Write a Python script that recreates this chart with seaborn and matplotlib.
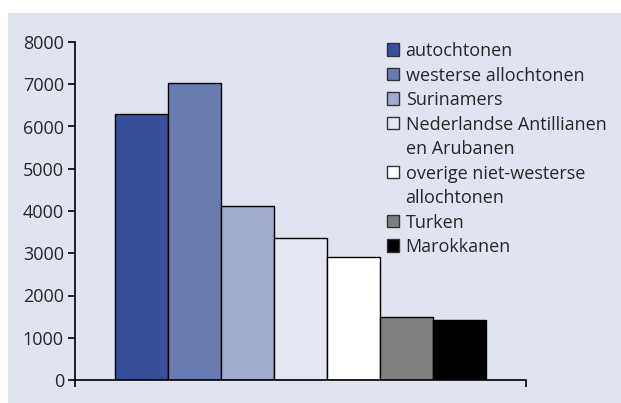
import matplotlib
matplotlib.use('Agg')
import matplotlib.pyplot as plt
import matplotlib.patches as mpatches
import seaborn as sns
import pandas as pd

# gegevens
groepen = ['autochtonen', 'westerse allochtonen', 'Surinamers',
           'Nederlandse Antillianen en Arubanen',
           'overige niet-westerse allochtonen', 'Turken', 'Marokkanen']
# legendatekst per regel (None = vervolgregel zonder vakje)
legenda_regels = ['autochtonen', 'westerse allochtonen', 'Surinamers',
                  'Nederlandse Antillianen', 'en Arubanen',
                  'overige niet-westerse', 'allochtonen', 'Turken', 'Marokkanen']
legenda_groep = [0, 1, 2, 3, None, 4, None, 5, 6]
waarden = [6300, 7030, 4120, 3360, 2920, 1480, 1430]
kleuren = ['#3A4F99', '#6A7BB0', '#A0AACD', '#E4E7F2', '#FFFFFF', '#808080', '#000000']
y_ticks = [0, 1000, 2000, 3000, 4000, 5000, 6000, 7000, 8000]

achtergrond = '#E0E4F0'

df = pd.DataFrame({'cat': ['x'] * len(groepen), 'groep': groepen, 'aantal': waarden})

sns.set_style('ticks')
plt.rcParams['font.family'] = ['Open Sans', 'DejaVu Sans']

fig = plt.figure(figsize=(6.21, 4.03), dpi=100)
fig.patch.set_facecolor('white')

# lichtblauw paneel achter de grafiek
fig.patches.append(mpatches.Rectangle((8 / 621, 0), 1 - 8 / 621, 1 - 13 / 403,
                                      transform=fig.transFigure,
                                      facecolor=achtergrond, edgecolor='none',
                                      zorder=-5))

ax = fig.add_axes([75 / 621, 23 / 403, 451 / 621, 338 / 403])
ax.set_facecolor('none')

sns.barplot(data=df, x='cat', y='aantal', hue='groep', hue_order=groepen,
            palette=kleuren, width=0.823, gap=0, edgecolor='black',
            linewidth=1, saturation=1, legend=False, ax=ax)

ax.set_xlim(-0.5, 0.5)
ax.set_ylim(0, 8000)
ax.set_yticks(y_ticks)
ax.set_xticks([-0.5, 0.5])
ax.set_xticklabels(['', ''])
ax.set_xlabel('')
ax.set_ylabel('')
ax.tick_params(axis='both', direction='out', length=5, width=1.2,
               color='black', labelsize=13, pad=3)
for s in ['top', 'right']:
    ax.spines[s].set_visible(False)
for s in ['left', 'bottom']:
    ax.spines[s].set_linewidth(1.2)
    ax.spines[s].set_color('black')

handles = []
for g in legenda_groep:
    if g is None:
        handles.append(mpatches.Patch(facecolor='none', edgecolor='none'))
    else:
        handles.append(mpatches.Patch(facecolor=kleuren[g], edgecolor='#333333',
                                      linewidth=1))
fig.legend(handles, legenda_regels, loc='upper left',
           bbox_to_anchor=(378 / 621, 1 - 33 / 403), frameon=False,
           fontsize=13, handlelength=0.68, handleheight=0.68,
           handletextpad=0.35, labelspacing=0.36, borderpad=0)

fig.savefig('out.png', dpi=100)
